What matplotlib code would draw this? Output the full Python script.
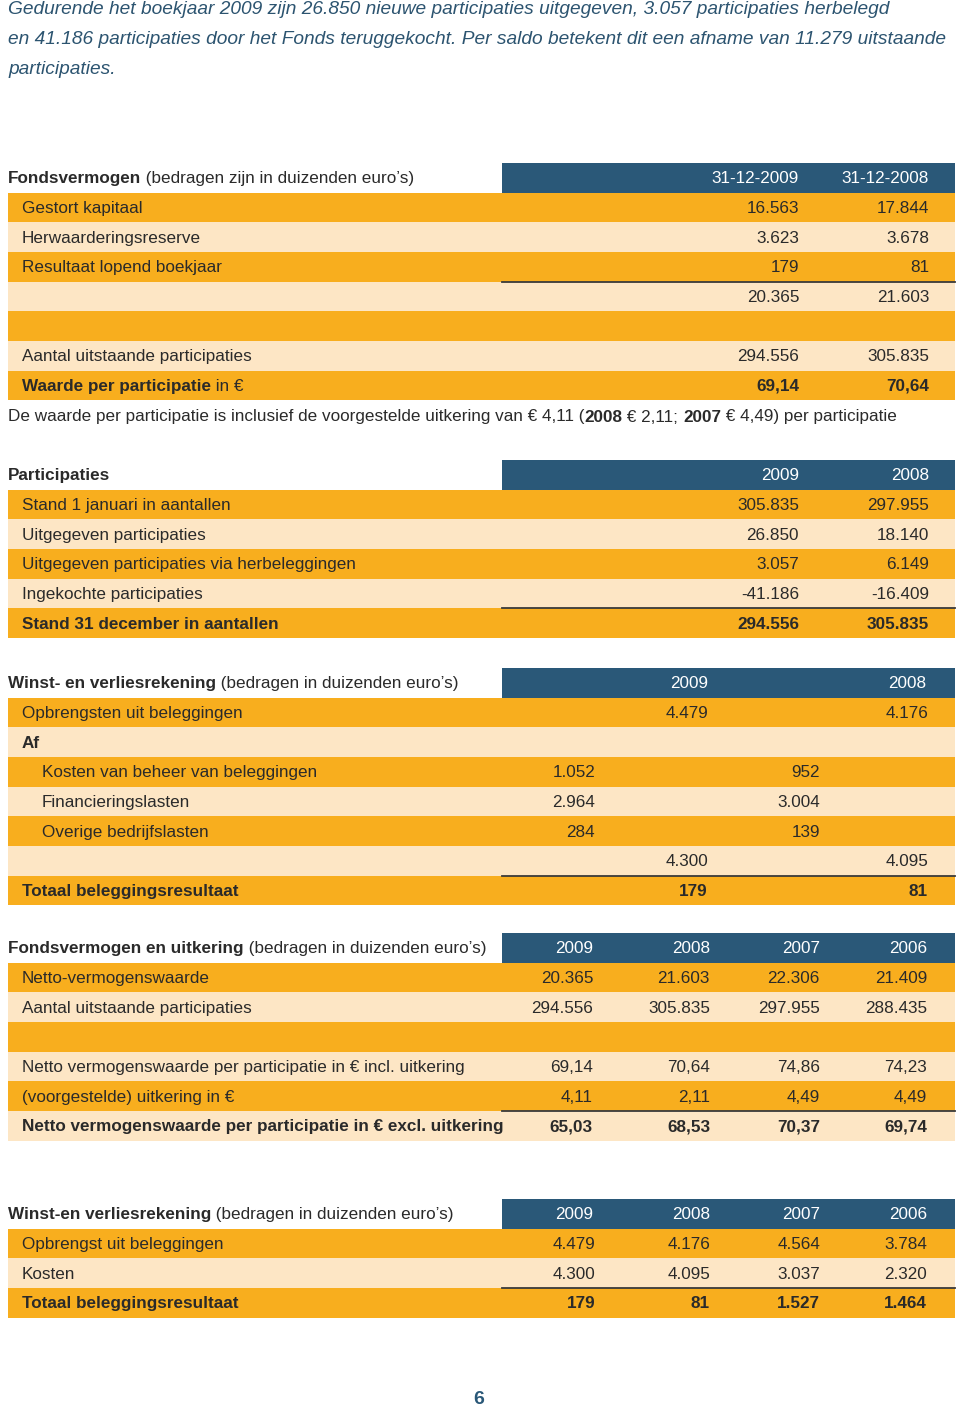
import matplotlib.pyplot as plt
from matplotlib.patches import Rectangle
from matplotlib import font_manager

ORANGE = '#F8AE1E'
LIGHT = '#FDE6C5'
BLUE = '#2A5878'
INK = '#2A2A2A'
INTRO = '#2C5470'

installed = {f.name for f in font_manager.fontManager.ttflist}
FONT = ['Liberation Sans Narrow'] if 'Liberation Sans Narrow' in installed else ['Liberation Sans']
FONT = FONT + ['DejaVu Sans']

intro_lines = [
    'Gedurende het boekjaar 2009 zijn 26.850 nieuwe participaties uitgegeven, 3.057 participaties herbelegd',
    'en 41.186 participaties door het Fonds teruggekocht. Per saldo betekent dit een afname van 11.279 uitstaande',
    'participaties.',
]

# Fondsvermogen
fv_cols = ['31-12-2009', '31-12-2008']
fv_labels = ['Gestort kapitaal', 'Herwaarderingsreserve', 'Resultaat lopend boekjaar', '', '',
             'Aantal uitstaande participaties', [('Waarde per participatie', 'bold'), (' in \u20ac', 'normal')]]
fv_2009 = ['16.563', '3.623', '179', '20.365', '', '294.556', '69,14']
fv_2008 = ['17.844', '3.678', '81', '21.603', '', '305.835', '70,64']

note_parts = [('De waarde per participatie is inclusief de voorgestelde uitkering van \u20ac 4,11 (', 'normal'),
              ('2008', 'bold'), (' \u20ac 2,11; ', 'normal'), ('2007', 'bold'), (' \u20ac 4,49) per participatie', 'normal')]

# Participaties
pa_cols = ['2009', '2008']
pa_labels = ['Stand 1 januari in aantallen', 'Uitgegeven participaties',
             'Uitgegeven participaties via herbeleggingen', 'Ingekochte participaties',
             'Stand 31 december in aantallen']
pa_2009 = ['305.835', '26.850', '3.057', '-41.186', '294.556']
pa_2008 = ['297.955', '18.140', '6.149', '-16.409', '305.835']

# Winst- en verliesrekening
wv_cols = ['2009', '2008']
wv_labels = ['Opbrengsten uit beleggingen', 'Af', 'Kosten van beheer van beleggingen',
             'Financieringslasten', 'Overige bedrijfslasten', '', 'Totaal beleggingsresultaat']
wv_2009 = ['4.479', '', '', '', '', '4.300', '179']
wv_2008 = ['4.176', '', '', '', '', '4.095', '81']
wv_sub_2009 = ['', '', '1.052', '2.964', '284', '', '']
wv_sub_2008 = ['', '', '952', '3.004', '139', '', '']

# Fondsvermogen en uitkering
fu_cols = ['2009', '2008', '2007', '2006']
fu_labels = ['Netto-vermogenswaarde', 'Aantal uitstaande participaties', '',
             'Netto vermogenswaarde per participatie in \u20ac incl. uitkering',
             '(voorgestelde) uitkering in \u20ac',
             'Netto vermogenswaarde per participatie in \u20ac excl. uitkering']
fu_2009 = ['20.365', '294.556', '', '69,14', '4,11', '65,03']
fu_2008 = ['21.603', '305.835', '', '70,64', '2,11', '68,53']
fu_2007 = ['22.306', '297.955', '', '74,86', '4,49', '70,37']
fu_2006 = ['21.409', '288.435', '', '74,23', '4,49', '69,74']

# Winst-en verliesrekening meerjarig
mj_cols = ['2009', '2008', '2007', '2006']
mj_labels = ['Opbrengst uit beleggingen', 'Kosten', 'Totaal beleggingsresultaat']
mj_2009 = ['4.479', '4.300', '179']
mj_2008 = ['4.176', '4.095', '81']
mj_2007 = ['4.564', '3.037', '1.527']
mj_2006 = ['3.784', '2.320', '1.464']

ROW = 29.65

fig = plt.figure(figsize=(9.6, 14.12), dpi=100)
ax = fig.add_axes([0, 0, 1, 1])
ax.set_xlim(0, 960)
ax.set_ylim(1412, 0)
ax.axis('off')
renderer = fig.canvas.get_renderer()


def fit_size(s, target, size=13, **kw):
    # pick a font size so that the string is about as wide as in the scan
    t = ax.text(0, 0, s, fontsize=size, family=FONT, **kw)
    w = t.get_window_extent(renderer).width
    t.remove()
    return size * target / w


FS = fit_size(fu_labels[3], 442)
FS_INTRO = fit_size(intro_lines[0], 875, style='italic')


def runs(x, y, parts, size=None, color=INK, style='normal'):
    size = size or FS
    for s, weight in parts:
        t = ax.text(x, y, s, fontsize=size, fontweight=weight, color=color,
                    family=FONT, style=style, va='center', ha='left')
        x += t.get_window_extent(renderer).width


def section(top, title, cols, head_x, labels, columns, col_x,
            bold_rows=(), indent_rows=(), rule_row=None):
    ax.add_patch(Rectangle((502, top), 453, ROW, color=BLUE, lw=0))
    runs(8, top + ROW / 2 + 1, title)
    for c, x in zip(cols, head_x):
        ax.text(x, top + ROW / 2 + 1, c, fontsize=FS, color='white', family=FONT,
                ha='right', va='center')
    for i, lab in enumerate(labels):
        y0 = top + ROW * (i + 1)
        ax.add_patch(Rectangle((8, y0), 947, ROW, color=ORANGE if i % 2 == 0 else LIGHT, lw=0))
        w = 'bold' if i in bold_rows else 'normal'
        parts = lab if isinstance(lab, list) else [(lab, w)]
        runs(42 if i in indent_rows else 22, y0 + ROW / 2 + 1, parts)
        for vals, x in zip(columns, col_x):
            if vals[i]:
                ax.text(x, y0 + ROW / 2 + 1, vals[i], fontsize=FS, color=INK, family=FONT,
                        fontweight=w, ha='right', va='center')
    if rule_row is not None:
        yr = top + ROW * (rule_row + 1)
        ax.plot([502, 955], [yr, yr], color='#3a3a3a', lw=1.3)


for k, line in enumerate(intro_lines):
    runs(8, 10 + k * 29.5, [(line, 'normal')], size=FS_INTRO, color=INTRO, style='italic')

section(163, [('Fondsvermogen', 'bold'), (' (bedragen zijn in duizenden euro\u2019s)', 'normal')],
        fv_cols, [799, 929], fv_labels, [fv_2009, fv_2008], [799, 929],
        bold_rows=(6,), rule_row=3)

runs(8, 417, note_parts)

section(460, [('Participaties', 'bold')],
        pa_cols, [799, 929], pa_labels, [pa_2009, pa_2008], [799, 929],
        bold_rows=(4,), rule_row=4)

section(668, [('Winst- en verliesrekening', 'bold'), (' (bedragen in duizenden euro\u2019s)', 'normal')],
        wv_cols, [708, 926], wv_labels, [wv_2009, wv_2008, wv_sub_2009, wv_sub_2008],
        [708, 928, 595, 820], bold_rows=(1, 6), indent_rows=(2, 3, 4), rule_row=6)

section(933, [('Fondsvermogen en uitkering', 'bold'), (' (bedragen in duizenden euro\u2019s)', 'normal')],
        fu_cols, [593, 710, 820, 927], fu_labels, [fu_2009, fu_2008, fu_2007, fu_2006],
        [593, 710, 820, 927], bold_rows=(5,), rule_row=5)

section(1199, [('Winst-en verliesrekening', 'bold'), (' (bedragen in duizenden euro\u2019s)', 'normal')],
        mj_cols, [593, 710, 820, 927], mj_labels, [mj_2009, mj_2008, mj_2007, mj_2006],
        [595, 710, 820, 927], bold_rows=(2,), rule_row=2)

ax.text(479, 1400, '6', fontsize=14, fontweight='bold', color=BLUE, family=FONT,
        ha='center', va='center')

fig.savefig('out.png', dpi=100)
